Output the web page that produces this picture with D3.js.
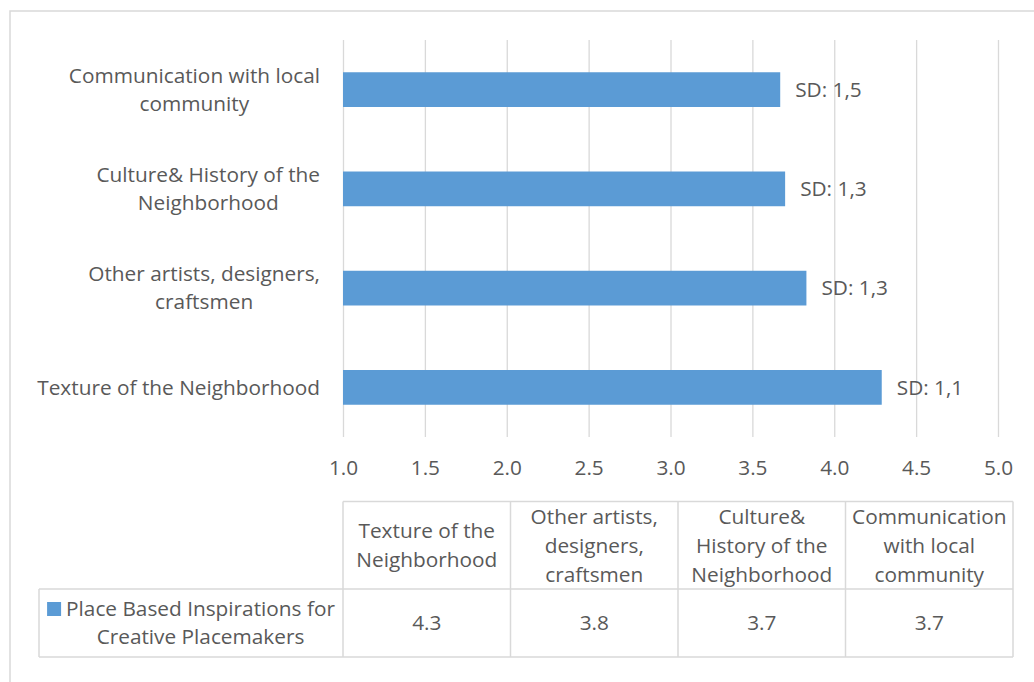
<!DOCTYPE html>
<html>
<head>
<meta charset="utf-8">
<script src="https://cdn.jsdelivr.net/npm/d3@7"></script>
<style>
  body { margin: 0; background: #fff; }
  svg { display: block; }
  text { font-family: "Open Sans", sans-serif; fill: #595959; }
</style>
</head>
<body>
<svg id="chart" width="1034" height="682"></svg>
<script>
// Categories, bottom to top on the bar axis, left to right in the data table
const categories = [
  "Texture of the Neighborhood",
  "Other artists, designers, craftsmen",
  "Culture& History of the Neighborhood",
  "Communication with local community"
];
const axisLabelLines = [
  ["Texture of the Neighborhood"],
  ["Other artists, designers,", "craftsmen"],
  ["Culture& History of the", "Neighborhood"],
  ["Communication with local", "community"]
];
const tableHeaderLines = [
  ["Texture of the", "Neighborhood"],
  ["Other artists,", "designers,", "craftsmen"],
  ["Culture&", "History of the", "Neighborhood"],
  ["Communication", "with local", "community"]
];
// Mean scores (1–5 scale)
const meanValues = [4.29, 3.83, 3.70, 3.67];
const sdLabels = ["SD: 1,1", "SD: 1,3", "SD: 1,3", "SD: 1,5"];
const seriesNameLines = ["Place Based Inspirations for", "Creative Placemakers"];
const xTickValues = [1.0, 1.5, 2.0, 2.5, 3.0, 3.5, 4.0, 4.5, 5.0];

const BAR = "#5B9BD5";
const GRID = "#d9d9d9";
const FS = 20.8;

const data = categories.map((c, i) => ({
  cat: c, lines: axisLabelLines[i], head: tableHeaderLines[i],
  value: meanValues[i], sd: sdLabels[i]
}));

const svg = d3.select("#chart");

// outer chart frame
svg.append("rect")
  .attr("x", 10).attr("y", 11).attr("width", 1040).attr("height", 690)
  .attr("fill", "none").attr("stroke", GRID).attr("stroke-width", 1.5);

const plot = { left: 343, right: 998, top: 40, bottom: 437 };

const x = d3.scaleLinear().domain([1, 5]).range([plot.left, plot.right]);
const y = d3.scaleBand()
  .domain(categories.slice().reverse())
  .range([plot.top, plot.bottom])
  .paddingInner(0.65).paddingOuter(0.325);

// vertical gridlines
const xAxis = d3.axisBottom(x).tickValues(xTickValues)
  .tickFormat(d3.format(".1f"))
  .tickSize(-(plot.bottom - plot.top)).tickPadding(23);
const gx = svg.append("g")
  .attr("transform", `translate(0,${plot.bottom})`)
  .call(xAxis);
gx.select(".domain").remove();
gx.selectAll(".tick line").attr("stroke", GRID).attr("stroke-width", 1.3);
gx.selectAll(".tick text")
  .attr("font-size", FS).attr("font-family", "Open Sans, sans-serif")
  .attr("fill", "#595959").attr("dy", "0.71em");

// bars
svg.append("g").selectAll("rect").data(data).join("rect")
  .attr("x", x(1))
  .attr("y", d => y(d.cat))
  .attr("width", d => x(d.value) - x(1))
  .attr("height", y.bandwidth())
  .attr("fill", BAR);

// SD labels beside each bar
svg.append("g").selectAll("text").data(data).join("text")
  .attr("x", d => x(d.value) + 15)
  .attr("y", d => y(d.cat) + y.bandwidth() / 2)
  .attr("dy", "0.35em")
  .attr("font-size", FS)
  .text(d => d.sd);

// category labels, lines centred on each other, block right-aligned
const lineH = 28;
const labelRight = 320;
data.forEach(d => {
  const g = svg.append("g");
  const cy = y(d.cat) + y.bandwidth() / 2;
  const n = d.lines.length;
  const texts = d.lines.map((ln, i) => g.append("text")
    .attr("y", cy + (i - (n - 1) / 2) * lineH)
    .attr("dy", "0.35em")
    .attr("font-size", FS)
    .attr("text-anchor", "middle")
    .text(ln));
  const w = d3.max(texts, t => t.node().getComputedTextLength());
  texts.forEach(t => t.attr("x", labelRight - w / 2));
});

// data table under the axis
const table = { left: 343, right: 1013, top: 501.5, mid: 589, bottom: 657, keyLeft: 39 };
const colW = (table.right - table.left) / data.length;
const tg = svg.append("g");
const border = (x1, y1, x2, y2) => tg.append("line")
  .attr("x1", x1).attr("y1", y1).attr("x2", x2).attr("y2", y2)
  .attr("stroke", GRID).attr("stroke-width", 1.5);

border(table.left, table.top, table.right, table.top);
border(table.keyLeft, table.mid, table.right, table.mid);
border(table.keyLeft, table.bottom, table.right, table.bottom);
border(table.keyLeft, table.mid, table.keyLeft, table.bottom);
d3.range(data.length + 1).forEach(i =>
  border(table.left + i * colW, table.top, table.left + i * colW, table.bottom));

const tLine = 29;
const fmt = d3.format(".1f");
data.forEach((d, i) => {
  const cx = table.left + (i + 0.5) * colW;
  const hy = (table.top + table.mid) / 2;
  const n = d.head.length;
  d.head.forEach((ln, j) => tg.append("text")
    .attr("x", cx).attr("y", hy + (j - (n - 1) / 2) * tLine)
    .attr("dy", "0.35em").attr("font-size", FS)
    .attr("text-anchor", "middle").text(ln));
  tg.append("text")
    .attr("x", cx).attr("y", (table.mid + table.bottom) / 2)
    .attr("dy", "0.35em").attr("font-size", FS)
    .attr("text-anchor", "middle").text(fmt(d.value));
});

// legend key cell: swatch followed by the centred series name
const keyCy = (table.mid + table.bottom) / 2;
const nameTexts = seriesNameLines.map((ln, j) => tg.append("text")
  .attr("y", keyCy + (j - (seriesNameLines.length - 1) / 2) * lineH)
  .attr("dy", "0.35em").attr("font-size", FS)
  .attr("text-anchor", "middle").text(ln));
const nameW = d3.max(nameTexts, t => t.node().getComputedTextLength());
const sw = 14, gap = 5;
const blockStart = (table.keyLeft + table.left) / 2 - (sw + gap + nameW) / 2;
nameTexts.forEach(t => t.attr("x", blockStart + sw + gap + nameW / 2));
tg.append("rect")
  .attr("x", blockStart)
  .attr("y", keyCy - lineH / 2 - sw / 2)
  .attr("width", sw).attr("height", sw)
  .attr("fill", BAR);
</script>
</body>
</html>
